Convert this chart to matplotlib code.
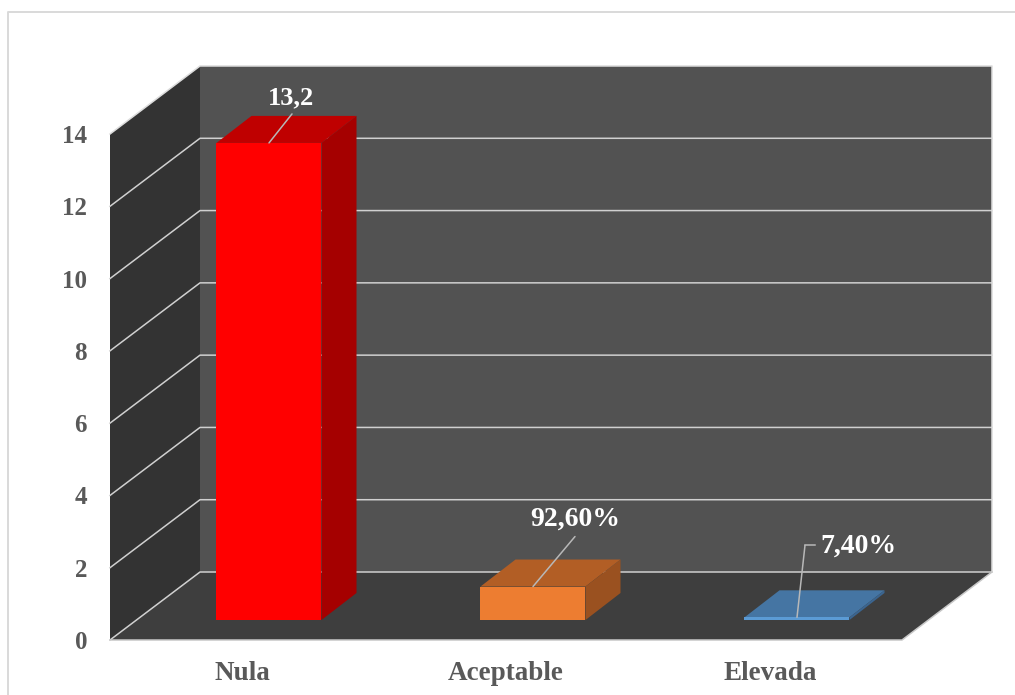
"""Oblique 3D-style column chart: Nula / Aceptable / Elevada."""

import matplotlib.pyplot as plt
from matplotlib.lines import Line2D

plt.rcParams["font.family"] = ["Liberation Serif", "DejaVu Serif"]
plt.rcParams["font.weight"] = "bold"

CATEGORIES = ["Nula", "Aceptable", "Elevada"]
VALUES = [13.2, 0.926, 0.074]
VALUE_LABELS = ["13,2", "92,60%", "7,40%"]
Y_TICKS = [0, 2, 4, 6, 8, 10, 12, 14]

# bar faces: front, top, side
BAR_COLORS = [
    ("#ff0000", "#bf0000", "#a50000"),
    ("#ed7d31", "#b25e25", "#9a5120"),
    ("#5b9bd5", "#4575a3", "#3b6590"),
]

W, H = 1015, 695
PX_X = 264.0        # pixels per category
PX_Y = 506.0 / 14   # pixels per y unit
WALL_DX, WALL_DY = 90 / PX_X, 68 / PX_Y      # depth of the box
BAR_DX, BAR_DY = 35 / PX_X, 27 / PX_Y        # depth of a column
INSET_DX, INSET_DY = 27 / PX_X, 20 / PX_Y    # column front, from the box front
BAR_W = 105 / PX_X

TEXT_GREY = "#595959"
LINE_GREY = "#d0d0d0"
LEADER_GREY = "#b8b8b8"


def main() -> None:
    fig = plt.figure(figsize=(W / 100, H / 100), dpi=100)
    ax = fig.add_axes([110 / W, 1 - 640 / H, 792 / W, 506 / H])
    ax.set_xlim(-0.5, 2.5)
    ax.set_ylim(0, 14)
    ax.patch.set_visible(False)
    for s in ax.spines.values():
        s.set_visible(False)

    # box walls
    top = Y_TICKS[-1]
    ax.fill([-0.5 + WALL_DX, 2.5 + WALL_DX, 2.5 + WALL_DX, -0.5 + WALL_DX],
            [WALL_DY, WALL_DY, top + WALL_DY, top + WALL_DY],
            color="#525252", lw=0, clip_on=False, zorder=1)
    ax.fill([-0.5, -0.5 + WALL_DX, -0.5 + WALL_DX, -0.5],
            [0, WALL_DY, top + WALL_DY, top],
            color="#333333", lw=0, clip_on=False, zorder=1)
    ax.fill([-0.5, 2.5, 2.5 + WALL_DX, -0.5 + WALL_DX],
            [0, 0, WALL_DY, WALL_DY],
            color="#3e3e3e", lw=0, clip_on=False, zorder=1)

    # gridlines run over the left wall and across the back wall
    for v in Y_TICKS[:-1]:
        ax.plot([-0.5, -0.5 + WALL_DX, 2.5 + WALL_DX],
                [v, v + WALL_DY, v + WALL_DY],
                color=LINE_GREY, lw=1.1, clip_on=False, zorder=2)
    ax.plot([-0.5, -0.5 + WALL_DX, 2.5 + WALL_DX, 2.5 + WALL_DX],
            [top, top + WALL_DY, top + WALL_DY, WALL_DY],
            color="#dddddd", lw=1.1, clip_on=False, zorder=2)
    ax.plot([-0.5, 2.5, 2.5 + WALL_DX], [0, 0, WALL_DY],
            color="#c8c8c8", lw=1.1, clip_on=False, zorder=2)

    # columns
    for i, (v, faces) in enumerate(zip(VALUES, BAR_COLORS)):
        x0 = i + INSET_DX - BAR_W / 2
        x1 = x0 + BAR_W
        y0 = INSET_DY
        y1 = y0 + v
        ax.fill([x0, x1, x1 + BAR_DX, x0 + BAR_DX],
                [y1, y1, y1 + BAR_DY, y1 + BAR_DY],
                color=faces[1], lw=0, clip_on=False, zorder=3)
        ax.fill([x1, x1 + BAR_DX, x1 + BAR_DX, x1],
                [y0, y0 + BAR_DY, y1 + BAR_DY, y1],
                color=faces[2], lw=0, clip_on=False, zorder=3)
        ax.bar(i + INSET_DX, v, width=BAR_W, bottom=y0, color=faces[0],
               lw=0, clip_on=False, zorder=4)

    # value labels with leader lines
    arrow = dict(arrowstyle="-", color=LEADER_GREY, lw=1.1, shrinkA=0, shrinkB=0)
    tips = [(23, 29), (42, 50), (8, 72)]
    texts = [(22.5, 45), (42, 67), (61, 71)]
    sizes = [19, 20, 20]
    for i, v in enumerate(VALUES):
        xy = (i + INSET_DX, INSET_DY + v)
        ax.annotate("", xy=xy, xytext=tips[i], xycoords="data",
                    textcoords="offset pixels", arrowprops=arrow,
                    annotation_clip=False, zorder=5)
        ax.annotate(VALUE_LABELS[i], xy=xy, xytext=texts[i], xycoords="data",
                    textcoords="offset pixels", color="white", fontsize=sizes[i],
                    ha="center", va="center", zorder=6, annotation_clip=False)
    # short horizontal run of the Elevada leader
    ex, ey = 2 + INSET_DX, INSET_DY + VALUES[2]
    ax.plot([ex + 8 / PX_X, ex + 18 / PX_X], [ey + 72 / PX_Y] * 2,
            color=LEADER_GREY, lw=1.1, clip_on=False, zorder=5)

    # axis text
    ax.set_yticks(Y_TICKS)
    ax.set_xticks(range(len(CATEGORIES)), CATEGORIES)
    ax.tick_params(axis="y", length=0, pad=16.5, labelsize=18, labelcolor=TEXT_GREY)
    ax.tick_params(axis="x", length=0, pad=15.2, labelsize=19.5, labelcolor=TEXT_GREY)

    # chart frame: only the top and left edges are in the picture
    fig.add_artist(Line2D([8 / W, 8 / W, 1], [0, 1 - 12 / H, 1 - 12 / H],
                          color="#d9d9d9", lw=1.4))

    fig.savefig("out.png", dpi=100)


if __name__ == "__main__":
    main()
